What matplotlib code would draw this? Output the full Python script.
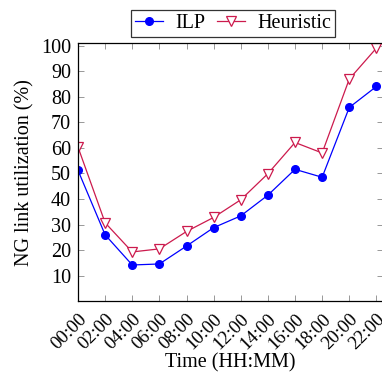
import numpy as np
import matplotlib
matplotlib.use("Agg")
import matplotlib.pyplot as plt

plt.rcParams['font.family'] = ['Liberation Serif', 'DejaVu Serif']

hours = [0, 2, 4, 6, 8, 10, 12, 14, 16, 18, 20, 22]
labels = ["00:00", "02:00", "04:00", "06:00", "08:00", "10:00",
          "12:00", "14:00", "16:00", "18:00", "20:00", "22:00"]
ilp = [51.2, 26.0, 14.2, 14.6, 21.6, 28.8, 33.4, 41.5, 51.6, 48.5, 75.8, 84.0]
heuristic = [60.3, 30.7, 19.3, 20.5, 27.3, 32.8, 39.7, 49.9, 62.1, 58.0, 86.9, 99.0]

fs = 14.5

fig = plt.figure(figsize=(3.82, 3.76), dpi=100)
ax = fig.add_axes([78/382, 1 - 301.3/376, (382.5-78)/382, (301.3-43)/376])

ax.plot(hours, ilp, color='#0000ff', lw=0.9, marker='o', ms=5.5,
        mfc='#0000ff', mec='#0000ff', label='ILP')
ax.plot(hours, heuristic, color='#cc1a4d', lw=0.9, marker='v', ms=7,
        mfc='white', mec='#cc1a4d', mew=0.9, label='Heuristic')

ax.set_xlim(0, 22.45)
ax.set_ylim(0, 101)
ax.set_xticks(hours)
ax.set_xticklabels(labels, rotation=45, ha='right', rotation_mode='anchor')
ax.set_yticks(range(10, 101, 10))
ax.tick_params(direction='in', length=4, color='#888888', labelsize=fs,
               top=True, right=True, width=0.6)
ax.tick_params(axis='x', pad=7, labelsize=13.5)
ax.tick_params(axis='y', pad=5)
for s in ax.spines.values():
    s.set_linewidth(0.9)

ax.set_xlabel("Time (HH:MM)", fontsize=fs, labelpad=0)
ax.set_ylabel("NG link utilization (%)", fontsize=fs, labelpad=5)

leg = ax.legend(loc='lower center', ncol=2,
                frameon=True, fancybox=False, edgecolor='black', fontsize=fs,
                handlelength=1.4, handletextpad=0.6, columnspacing=0.6,
                borderpad=0.2, borderaxespad=0.0,
                bbox_to_anchor=(233/382, 1 - 37/376), bbox_transform=fig.transFigure)
leg.get_frame().set_linewidth(0.9)

fig.savefig("out.png", dpi=100)
